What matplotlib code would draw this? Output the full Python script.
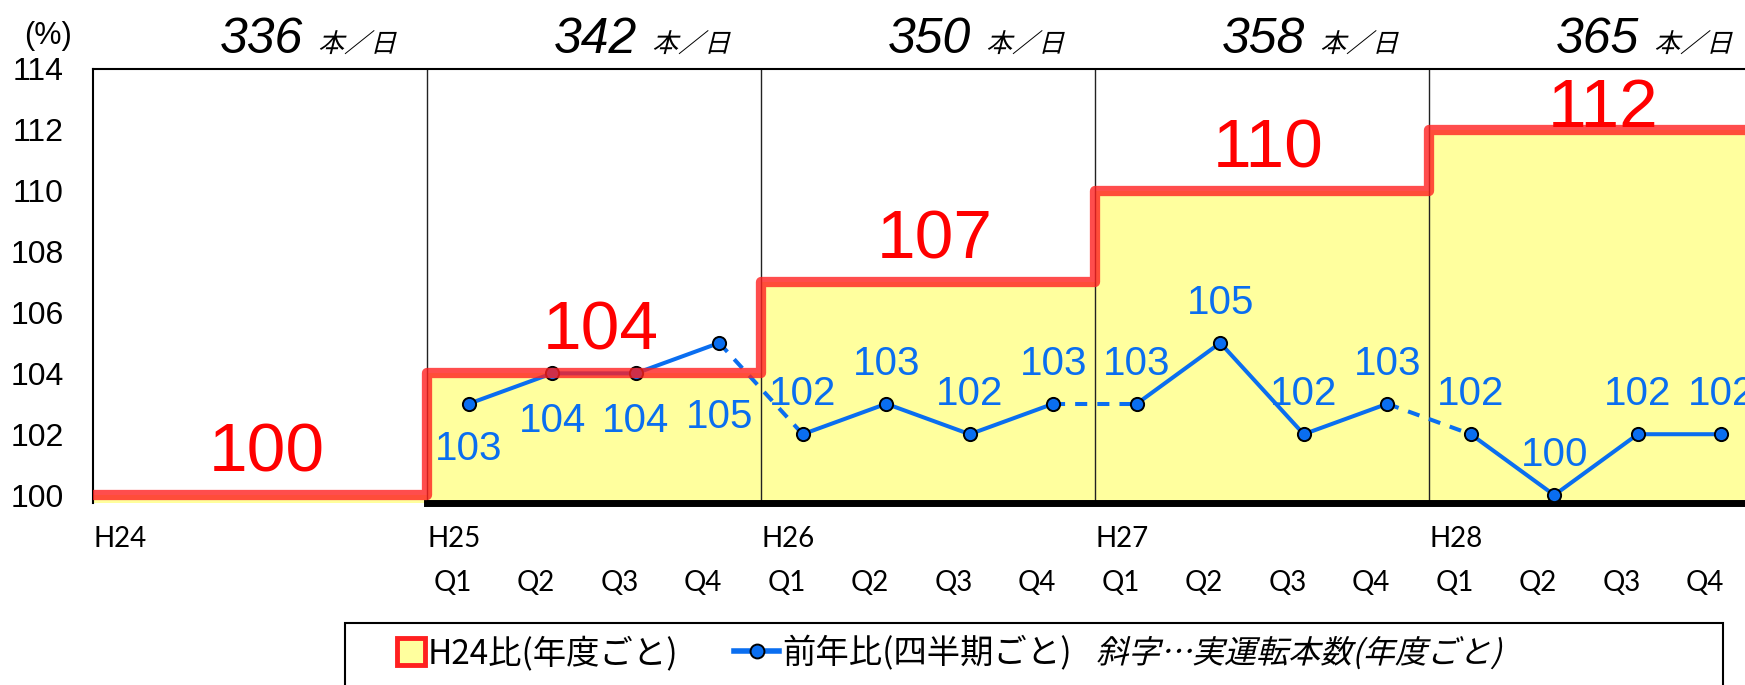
import matplotlib
matplotlib.use('Agg')
import matplotlib.pyplot as plt
from matplotlib.textpath import TextPath
from matplotlib.patches import PathPatch, Rectangle
from matplotlib.font_manager import FontProperties
from matplotlib.transforms import Affine2D
from matplotlib.lines import Line2D

# ---------------- data ----------------
years = ['H24', 'H25', 'H26', 'H27', 'H28']
annual_index = [100, 104, 107, 110, 112]          # H24比(年度ごと)
trains_per_day = [336, 342, 350, 358, 365]        # 実運転本数(年度ごと)
quarters = ['Q1', 'Q2', 'Q3', 'Q4']
yoy_H25 = [103, 104, 104, 105]                    # 前年比(四半期ごと)
yoy_H26 = [102, 103, 102, 103]
yoy_H27 = [103, 105, 102, 103]
yoy_H28 = [102, 100, 102, 102]
yoy_by_year = [yoy_H25, yoy_H26, yoy_H27, yoy_H28]
y_ticks = [100, 102, 104, 106, 108, 110, 112, 114]

# label offsets for blue values (pixels, centre of text relative to point)
blue_label_dy = [[-42, -45, -45, -71], [43, 43, 43, 43], [43, 43, 43, 43], [43, 43, 43, 43]]

# ---------------- style ----------------
W, H, DPI = 1745, 685, 100
BLUE = '#0A6EF0'
RED = '#FF2020'
YELLOW = '#FFFF9E'
plt.rcParams['font.family'] = ['Liberation Sans', 'Noto Sans CJK JP', 'DejaVu Sans']

fig = plt.figure(figsize=(W / DPI, H / DPI), dpi=DPI)
ax_left, ax_top, ax_bottom = 93, 69, 503
ax = fig.add_axes([ax_left / W, (H - ax_bottom) / H, 1670 / W, (ax_bottom - ax_top) / H])
ymin, ymax = 99.74, 114
ax.set_xlim(0, len(years))
ax.set_ylim(ymin, ymax)

# yellow area + red step outline
edges = list(range(len(years) + 1))
step_vals = annual_index + [annual_index[-1]]
ax.fill_between(edges, ymin, step_vals, step='post', color=YELLOW, lw=0, zorder=1)
for xb in edges[1:-1]:
    ax.axvline(xb, color='#222222', lw=1.0, zorder=2)

# blue quarterly line
prev = None
for yi, vals in enumerate(yoy_by_year, start=1):
    xs = [yi + (q + 0.5) / 4 for q in range(len(vals))]
    if prev is not None:
        ax.plot([prev[0], xs[0]], [prev[1], vals[0]], color=BLUE, lw=2.9,
                ls=(0, (3, 2.5)), zorder=3)
    ax.plot(xs, vals, color=BLUE, lw=2.9, marker='o', ms=9.5, mfc=BLUE,
            mec='black', mew=1.4, zorder=4)
    for x, v, dy in zip(xs, vals, blue_label_dy[yi - 1]):
        ax.annotate(str(v), (x, v), xytext=(0, dy - 14), textcoords='offset pixels',
                    ha='center', va='baseline', fontsize=29, color=BLUE, zorder=6)
    prev = (xs[-1], vals[-1])

ax.step(edges, step_vals, where='post', color=RED, lw=7.4, alpha=0.8,
        solid_joinstyle='round', zorder=5)

# red annual labels
for i, v in enumerate(annual_index):
    ax.text(i + 0.52, min(v + 0.77, ymax - 1.9), str(v), ha='center', va='baseline',
            fontsize=50, color='#FF0000', zorder=6)

# axes styling
for s in ['left', 'top']:
    ax.spines[s].set_linewidth(1.5)
    ax.spines[s].set_color('black')
ax.spines['right'].set_visible(False)
ax.spines['bottom'].set_linewidth(5)
ax.spines['bottom'].set_color('black')
ax.spines['bottom'].set_bounds(1, len(years))
ax.set_yticks(y_ticks)
ax.set_yticklabels([str(t) for t in y_ticks])
ax.tick_params(axis='y', length=0, pad=21, labelsize=23)

ax.set_xticks([])

# x labels
for i, yname in enumerate(years):
    ax.annotate(yname, (i, 0), xycoords=('data', 'axes fraction'), xytext=(0, -44),
                textcoords='offset pixels', ha='left', va='baseline', fontsize=20,
                family='Lato')
    if i >= 1:
        for q, qn in enumerate(quarters):
            ax.annotate(qn, (i + (q + 0.5) / 4, 0), xycoords=('data', 'axes fraction'),
                        xytext=(-16, -88), textcoords='offset pixels', ha='center',
                        va='baseline', fontsize=20, family='Lato')

fig.text(24 / W, (H - 44) / H, '(%)', fontsize=22, family='Liberation Sans', va='baseline')

cjk = FontProperties(family='Noto Sans CJK JP')


def skew_text(x, y, s, size_px, color='black', skew=14):
    tp = TextPath((0, 0), s, size=size_px, prop=cjk)
    tr = Affine2D().skew_deg(skew, 0).translate(x, y)
    fig.add_artist(PathPatch(tp, transform=tr, fc=color, ec='none', lw=0))


# top italic numbers (trains per day)
num_texts = []
for i, n in enumerate(trains_per_day):
    t = ax.annotate(str(n), (i + 0.38, 1), xycoords=('data', 'axes fraction'),
                    xytext=(0, 16), textcoords='offset pixels', ha='left', va='baseline',
                    fontsize=36, style='italic', family='Liberation Sans', annotation_clip=False)
    num_texts.append(t)
fig.canvas.draw()
renderer = fig.canvas.get_renderer()
for t in num_texts:
    bb = t.get_window_extent(renderer)
    skew_text(bb.x1 + 15, H - 53 + 1, '本／日', 26)

# legend
fig.add_artist(Rectangle((345 / W, -0.2), (1723 - 345) / W, 0.2 + (H - 623) / H,
                         transform=fig.transFigure, fc='white', ec='black', lw=1.5))
fig.add_artist(Rectangle((397 / W, 20 / H), 28 / W, 27 / H, transform=fig.transFigure,
                         fc=YELLOW, ec=RED, lw=3.5))
fig.text(428 / W, 22 / H, 'H24比(年度ごと)', fontsize=24, family='Noto Sans CJK JP', va='baseline')
fig.add_artist(Line2D([734 / W, 779 / W], [34 / H, 34 / H], transform=fig.transFigure,
                      color=BLUE, lw=4))
fig.add_artist(Line2D([756.5 / W], [34 / H], transform=fig.transFigure, marker='o', ms=10,
                      mfc=BLUE, mec='black', mew=1.4))
fig.text(782 / W, 22 / H, '前年比(四半期ごと)', fontsize=24, family='Noto Sans CJK JP', va='baseline')
skew_text(1096, 22, '斜字…実運転本数(年度ごと)', 32)

fig.savefig('out.png', dpi=DPI)
